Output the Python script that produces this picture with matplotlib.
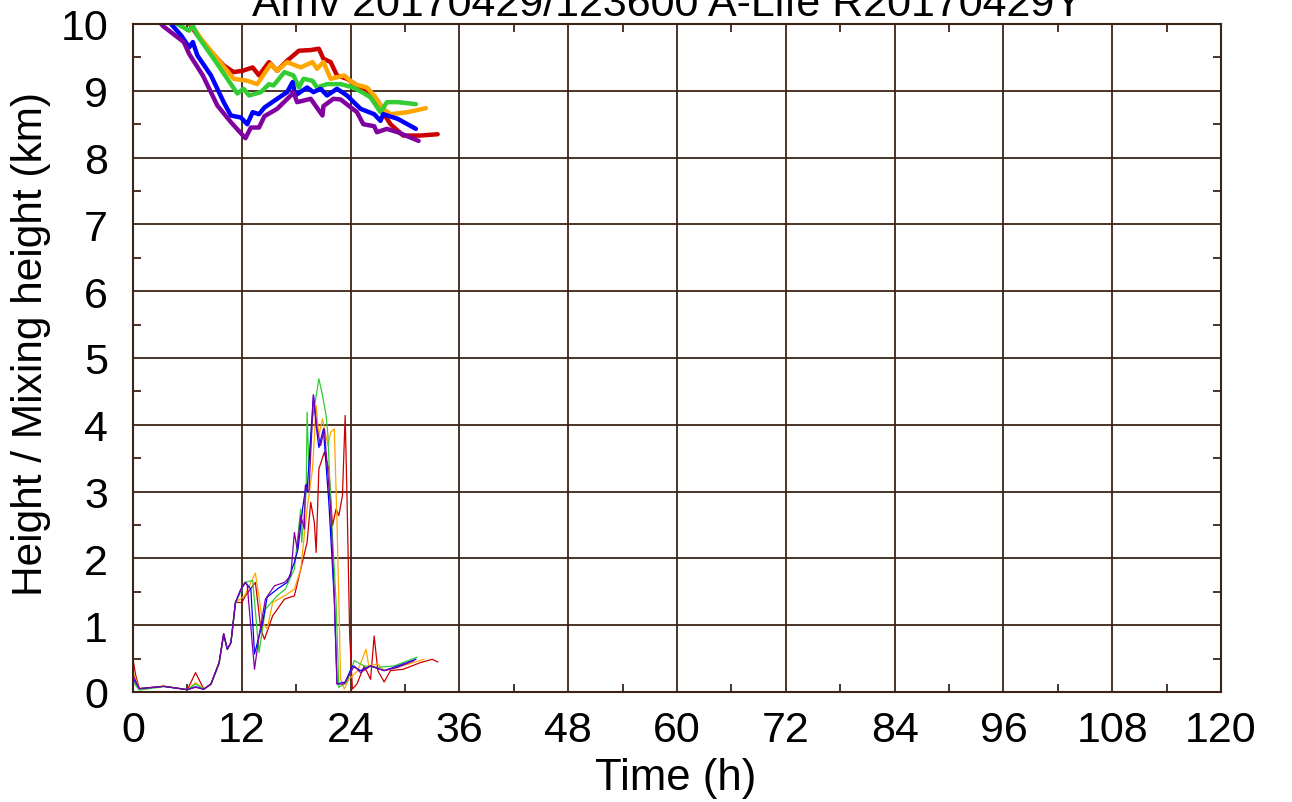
import matplotlib
matplotlib.use('Agg')
import matplotlib.pyplot as plt
from matplotlib.ticker import MultipleLocator

plt.rcParams['font.family'] = ['Liberation Sans', 'DejaVu Sans']

# upper thick lines: trajectory height (km)
red_t = [5.8, 7.0, 8.5, 10.0, 11.1, 12.1, 13.2, 13.9, 15.0, 15.9, 17.0, 18.3, 19.6, 20.5, 21.0, 21.8, 22.5, 23.6, 24.7, 26.2, 27.3, 28.4, 29.8, 31.7, 33.6]
red_z = [10.1, 9.85, 9.6, 9.38, 9.28, 9.3, 9.35, 9.23, 9.43, 9.3, 9.45, 9.6, 9.61, 9.63, 9.48, 9.43, 9.23, 9.18, 9.08, 8.93, 8.73, 8.5, 8.33, 8.33, 8.35]
orange_t = [5.9, 6.4, 7.5, 9.3, 11.1, 12.6, 13.7, 15.2, 15.9, 17.0, 18.5, 19.8, 20.3, 21.0, 21.8, 23.3, 24.4, 25.8, 26.6, 27.6, 28.4, 30.3, 32.3]
orange_z = [10.1, 10.0, 9.78, 9.48, 9.18, 9.15, 9.1, 9.4, 9.3, 9.43, 9.35, 9.43, 9.33, 9.43, 9.18, 9.23, 9.1, 9.05, 8.93, 8.73, 8.65, 8.68, 8.74]
green_t = [4.3, 4.9, 6.2, 6.6, 7.1, 8.9, 10.4, 11.5, 12.2, 12.8, 14.1, 15.0, 15.5, 16.7, 17.7, 18.3, 18.8, 19.8, 20.3, 21.4, 22.9, 24.3, 25.5, 26.2, 27.3, 28.0, 29.2, 31.2]
green_z = [10.1, 10.0, 9.9, 9.97, 9.83, 9.48, 9.18, 8.96, 9.03, 8.93, 8.98, 9.1, 9.08, 9.28, 9.23, 9.05, 9.18, 9.15, 9.05, 9.1, 9.1, 9.05, 8.96, 8.9, 8.68, 8.83, 8.83, 8.8]
blue_t = [3.6, 4.2, 5.3, 6.2, 6.6, 7.1, 8.6, 10.0, 10.8, 11.9, 12.6, 13.2, 13.9, 14.5, 15.9, 17.0, 17.6, 17.9, 19.2, 19.9, 20.7, 21.4, 22.5, 23.6, 25.1, 26.6, 27.3, 27.6, 29.2, 31.2]
blue_z = [10.1, 10.0, 9.83, 9.65, 9.73, 9.53, 9.23, 8.83, 8.63, 8.6, 8.5, 8.68, 8.65, 8.75, 8.88, 8.98, 9.13, 8.93, 9.05, 8.98, 9.03, 8.93, 9.03, 8.93, 8.73, 8.65, 8.55, 8.65, 8.58, 8.43]
purple_t = [2.8, 3.3, 5.6, 6.2, 7.7, 9.3, 10.8, 12.4, 13.0, 13.9, 14.5, 15.9, 17.4, 17.7, 18.1, 19.6, 20.9, 21.0, 22.1, 22.9, 24.7, 25.4, 26.6, 26.9, 28.0, 29.2, 31.5]
purple_z = [10.05, 9.97, 9.73, 9.55, 9.23, 8.78, 8.53, 8.29, 8.45, 8.45, 8.62, 8.73, 8.93, 8.98, 8.83, 8.88, 8.63, 8.77, 8.88, 8.87, 8.68, 8.5, 8.47, 8.38, 8.43, 8.38, 8.25]

# lower thin lines: mixing height (km)
mred_t = [0.0, 0.3, 0.7, 3.4, 6.0, 6.9, 7.8, 8.6, 9.5, 10.0, 10.4, 10.8, 11.3, 12.0, 12.4, 13.5, 14.1, 14.5, 15.4, 16.7, 17.8, 18.5, 19.2, 19.6, 20.0, 20.2, 20.5, 21.1, 21.6, 22.0, 22.4, 22.7, 23.1, 23.4, 23.6, 23.9, 24.2, 24.7, 25.5, 26.2, 26.6, 27.0, 27.7, 28.4, 29.8, 31.7, 33.0, 33.6]
mred_z = [0.49, 0.25, 0.05, 0.085, 0.035, 0.29, 0.045, 0.12, 0.44, 0.87, 0.64, 0.74, 1.34, 1.34, 1.44, 1.64, 0.94, 0.79, 1.14, 1.39, 1.44, 1.84, 2.24, 2.84, 2.54, 2.09, 3.34, 3.59, 3.34, 2.49, 2.74, 2.64, 2.94, 4.14, 2.94, 0.84, 0.045, 0.12, 0.39, 0.19, 0.84, 0.32, 0.15, 0.32, 0.34, 0.44, 0.49, 0.45]
morange_t = [0.0, 0.7, 3.4, 6.0, 6.9, 7.8, 8.6, 9.5, 10.0, 10.4, 10.8, 11.3, 12.3, 13.5, 14.3, 14.8, 15.4, 16.7, 17.8, 18.5, 19.2, 19.8, 20.2, 20.5, 20.9, 21.5, 21.8, 22.2, 22.5, 22.9, 23.3, 23.8, 24.8, 25.7, 26.0, 27.0, 27.7, 29.2, 32.1]
morange_z = [0.3, 0.05, 0.09, 0.035, 0.14, 0.045, 0.12, 0.44, 0.87, 0.64, 0.74, 1.34, 1.44, 1.78, 1.04, 0.94, 1.34, 1.44, 1.54, 1.84, 2.74, 3.34, 4.29, 3.84, 4.09, 3.69, 3.89, 3.94, 2.54, 0.19, 0.045, 0.19, 0.32, 0.64, 0.39, 0.42, 0.32, 0.37, 0.49]
mgreen_t = [0.0, 0.7, 3.4, 6.0, 6.9, 7.8, 8.6, 9.5, 10.0, 10.4, 10.8, 11.3, 12.3, 13.2, 13.9, 14.6, 15.9, 16.8, 17.8, 18.5, 18.6, 19.1, 19.2, 19.4, 19.8, 20.5, 20.9, 21.3, 21.5, 21.8, 22.4, 22.7, 23.6, 24.4, 25.5, 27.0, 28.8, 31.3]
mgreen_z = [0.15, 0.03, 0.08, 0.035, 0.12, 0.045, 0.11, 0.42, 0.85, 0.64, 0.74, 1.32, 1.64, 1.67, 0.59, 1.24, 1.44, 1.54, 1.84, 2.74, 2.24, 2.99, 4.19, 3.39, 4.09, 4.69, 4.44, 4.14, 3.84, 2.84, 1.34, 0.07, 0.15, 0.47, 0.39, 0.37, 0.39, 0.52]
mblue_t = [0.0, 0.7, 3.4, 6.0, 6.9, 7.8, 8.6, 9.5, 10.0, 10.4, 10.8, 11.3, 11.9, 12.4, 13.0, 13.4, 14.3, 14.8, 16.0, 17.0, 17.8, 18.2, 18.7, 19.1, 19.2, 19.9, 20.2, 20.5, 21.0, 21.6, 22.2, 22.5, 23.4, 24.2, 25.1, 26.2, 27.7, 29.2, 31.2]
mblue_z = [0.2, 0.05, 0.085, 0.035, 0.08, 0.04, 0.12, 0.44, 0.87, 0.64, 0.74, 1.34, 1.54, 1.64, 1.54, 0.57, 1.04, 1.42, 1.55, 1.64, 1.94, 2.14, 2.74, 3.11, 3.0, 4.45, 3.99, 3.66, 3.94, 2.84, 1.39, 0.12, 0.15, 0.39, 0.32, 0.39, 0.32, 0.39, 0.49]
mpurple_t = [0.0, 0.7, 3.4, 6.0, 6.9, 7.8, 8.6, 9.5, 10.0, 10.4, 10.8, 11.3, 11.9, 12.4, 12.6, 13.4, 13.9, 14.6, 15.6, 16.7, 17.4, 17.8, 18.1, 18.5, 18.9, 19.0, 19.4, 19.9, 20.3, 20.7, 21.1, 21.8, 22.2, 22.5, 23.3, 24.4, 25.1, 26.2, 27.7, 29.2, 31.0]
mpurple_z = [0.25, 0.05, 0.085, 0.035, 0.07, 0.04, 0.12, 0.44, 0.87, 0.64, 0.74, 1.34, 1.54, 1.64, 1.6, 0.34, 0.84, 1.39, 1.59, 1.64, 1.74, 2.39, 2.14, 2.64, 2.44, 3.09, 2.99, 4.44, 3.94, 3.69, 3.94, 2.74, 1.44, 0.12, 0.12, 0.39, 0.29, 0.39, 0.32, 0.37, 0.47]

colors = ['#cc0000', '#ffa500', '#33cc33', '#0000ff', '#8000a0']
upper = [(red_t, red_z), (orange_t, orange_z), (green_t, green_z), (blue_t, blue_z), (purple_t, purple_z)]
lower = [(mred_t, mred_z), (morange_t, morange_z), (mgreen_t, mgreen_z), (mblue_t, mblue_z), (mpurple_t, mpurple_z)]

frame_col = '#3b2416'
W, H = 1292, 803

fig = plt.figure(figsize=(W / 100, H / 100), dpi=100)
ax = fig.add_axes([133 / W, 110 / H, 1088 / W, 668 / H])

for (t, z), c in zip(upper, colors):
    ax.plot(t, z, color=c, lw=3.2, solid_joinstyle='round', solid_capstyle='round')
for (t, z), c in zip(lower, colors):
    ax.plot(t, z, color=c, lw=0.9)

ax.set_xlim(0, 120)
ax.set_ylim(0, 10)
ax.xaxis.set_major_locator(MultipleLocator(12))
ax.xaxis.set_minor_locator(MultipleLocator(6))
ax.yaxis.set_major_locator(MultipleLocator(1))
ax.yaxis.set_minor_locator(MultipleLocator(0.5))
ax.grid(True, which='major', color=frame_col, lw=1.3)
ax.tick_params(which='both', direction='in', top=True, right=True, color=frame_col, labelsize=31)
ax.tick_params(which='major', length=0, width=1.3)
ax.tick_params(which='minor', length=6, width=1.3)
ax.tick_params(axis='x', which='major', pad=13)
ax.tick_params(axis='y', which='major', pad=18)
for s in ax.spines.values():
    s.set_color(frame_col)
    s.set_linewidth(1.5)

fig.text(676 / W, 1 - 790 / H, 'Time (h)', fontsize=31.5, ha='center', va='baseline')
fig.text(31 / W, 1 - 344 / H, 'Height / Mixing height (km)', fontsize=30.5,
         ha='center', va='center', rotation=90)
fig.text(667 / W, 1 - 16 / H, 'Arriv 20170429/123600 A-Life R20170429Y', fontsize=31,
         ha='center', va='baseline')

fig.savefig('out.png', dpi=100)
